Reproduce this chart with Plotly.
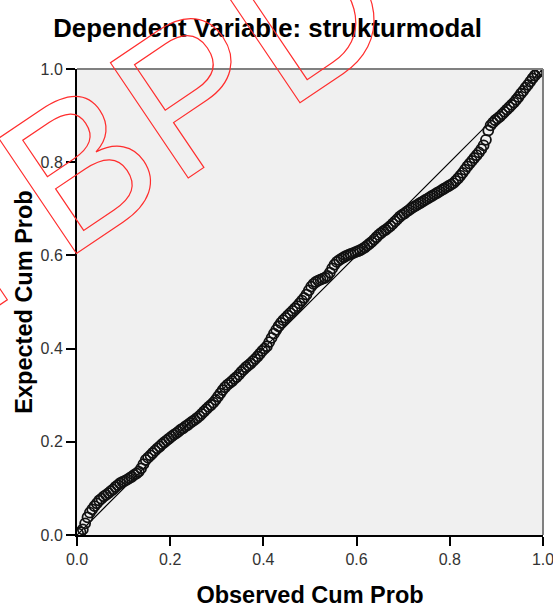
import plotly.graph_objects as go

# Observed cumulative probability (x) and expected cumulative probability (y)
observed = [0.0025, 0.0075, 0.0125, 0.0175, 0.0225, 0.0275, 0.0325, 0.0375, 0.0425, 0.0475,
            0.0525, 0.0575, 0.0625, 0.0675, 0.0725, 0.0775, 0.0825, 0.0875, 0.0925, 0.0975,
            0.1025, 0.1075, 0.1125, 0.1175, 0.1225, 0.1275, 0.1325, 0.1375, 0.1425, 0.1475,
            0.1525, 0.1575, 0.1625, 0.1675, 0.1725, 0.1775, 0.1825, 0.1875, 0.1925, 0.1975,
            0.2025, 0.2075, 0.2125, 0.2175, 0.2225, 0.2275, 0.2325, 0.2375, 0.2425, 0.2475,
            0.2525, 0.2575, 0.2625, 0.2675, 0.2725, 0.2775, 0.2825, 0.2875, 0.2925, 0.2975,
            0.3025, 0.3075, 0.3125, 0.3175, 0.3225, 0.3275, 0.3325, 0.3375, 0.3425, 0.3475,
            0.3525, 0.3575, 0.3625, 0.3675, 0.3725, 0.3775, 0.3825, 0.3875, 0.3925, 0.3975,
            0.4025, 0.4075, 0.4125, 0.4175, 0.4225, 0.4275, 0.4325, 0.4375, 0.4425, 0.4475,
            0.4525, 0.4575, 0.4625, 0.4675, 0.4725, 0.4775, 0.4825, 0.4875, 0.4925, 0.4975,
            0.5025, 0.5075, 0.5125, 0.5175, 0.5225, 0.5275, 0.5325, 0.5375, 0.5425, 0.5475,
            0.5525, 0.5575, 0.5625, 0.5675, 0.5725, 0.5775, 0.5825, 0.5875, 0.5925, 0.5975,
            0.6025, 0.6075, 0.6125, 0.6175, 0.6225, 0.6275, 0.6325, 0.6375, 0.6425, 0.6475,
            0.6525, 0.6575, 0.6625, 0.6675, 0.6725, 0.6775, 0.6825, 0.6875, 0.6925, 0.6975,
            0.7025, 0.7075, 0.7125, 0.7175, 0.7225, 0.7275, 0.7325, 0.7375, 0.7425, 0.7475,
            0.7525, 0.7575, 0.7625, 0.7675, 0.7725, 0.7775, 0.7825, 0.7875, 0.7925, 0.7975,
            0.8025, 0.8075, 0.8125, 0.8175, 0.8225, 0.8275, 0.8325, 0.8375, 0.8425, 0.8475,
            0.8525, 0.8575, 0.8625, 0.8675, 0.8725, 0.8775, 0.8825, 0.8875, 0.8925, 0.8975,
            0.9025, 0.9075, 0.9125, 0.9175, 0.9225, 0.9275, 0.9325, 0.9375, 0.9425, 0.9475,
            0.9525, 0.9575, 0.9625, 0.9675, 0.9725, 0.9775, 0.9825, 0.9875, 0.9925, 0.9975]
expected = [0.003, 0.006, 0.012, 0.025, 0.038, 0.048, 0.055, 0.062, 0.068, 0.074,
            0.078, 0.083, 0.086, 0.090, 0.094, 0.098, 0.103, 0.107, 0.111, 0.114,
            0.116, 0.119, 0.122, 0.125, 0.129, 0.132, 0.136, 0.143, 0.152, 0.161,
            0.166, 0.171, 0.176, 0.181, 0.186, 0.190, 0.195, 0.199, 0.203, 0.207,
            0.211, 0.215, 0.218, 0.222, 0.226, 0.229, 0.233, 0.236, 0.240, 0.244,
            0.247, 0.251, 0.255, 0.260, 0.265, 0.270, 0.275, 0.279, 0.284, 0.290,
            0.297, 0.304, 0.311, 0.317, 0.322, 0.326, 0.330, 0.335, 0.339, 0.344,
            0.350, 0.355, 0.360, 0.364, 0.368, 0.373, 0.378, 0.383, 0.389, 0.395,
            0.400, 0.405, 0.414, 0.423, 0.432, 0.440, 0.448, 0.455, 0.461, 0.466,
            0.471, 0.476, 0.481, 0.486, 0.491, 0.497, 0.503, 0.509, 0.516, 0.525,
            0.533, 0.539, 0.543, 0.546, 0.548, 0.550, 0.552, 0.556, 0.563, 0.572,
            0.580, 0.586, 0.590, 0.593, 0.596, 0.599, 0.601, 0.603, 0.605, 0.607,
            0.609, 0.611, 0.614, 0.617, 0.621, 0.625, 0.629, 0.634, 0.639, 0.644,
            0.648, 0.652, 0.655, 0.659, 0.663, 0.668, 0.673, 0.678, 0.683, 0.687,
            0.690, 0.694, 0.697, 0.701, 0.704, 0.707, 0.710, 0.713, 0.716, 0.719,
            0.722, 0.725, 0.728, 0.731, 0.734, 0.737, 0.740, 0.743, 0.746, 0.749,
            0.752, 0.755, 0.760, 0.765, 0.771, 0.777, 0.784, 0.791, 0.797, 0.803,
            0.809, 0.815, 0.821, 0.828, 0.836, 0.848, 0.868, 0.879, 0.885, 0.890,
            0.894, 0.898, 0.903, 0.908, 0.913, 0.918, 0.923, 0.928, 0.934, 0.940,
            0.947, 0.953, 0.960, 0.966, 0.973, 0.980, 0.986, 0.991, 0.995, 0.998]

# Reference (diagonal) line endpoints
diag_x = [0.0, 1.0]
diag_y = [0.0, 1.0]

tick_vals = [0.0, 0.2, 0.4, 0.6, 0.8, 1.0]
tick_text = ["0.0", "0.2", "0.4", "0.6", "0.8", "1.0"]

FONT = "Arial, 'Liberation Sans', sans-serif"

fig = go.Figure()
fig.add_trace(go.Scatter(x=diag_x, y=diag_y, mode="lines",
                         line=dict(color="black", width=1.2),
                         hoverinfo="skip", showlegend=False))
fig.add_trace(go.Scatter(x=observed, y=expected, mode="markers",
                         marker=dict(symbol="circle-open", size=10, color="#111111",
                                     line=dict(width=1.8)),
                         showlegend=False))

axis_common = dict(range=[0, 1], tickvals=tick_vals, ticktext=tick_text,
                   ticks="outside", ticklen=9, tickwidth=1.5, tickcolor="black",
                   showline=True, linecolor="black", linewidth=2,
                   showgrid=False, zeroline=False, automargin=False,
                   ticklabeloverflow="allow",
                   tickfont=dict(family=FONT, size=16, color="#333333"))

fig.update_layout(
    width=553, height=608,
    margin=dict(l=77, r=10, t=69, b=73, pad=0),
    paper_bgcolor="white", plot_bgcolor="#F0F0F0",
    title=dict(text="Dependent Variable: strukturmodal",
               font=dict(family=FONT, size=25.8, color="black", weight="bold"),
               xref="container", x=267.5 / 553, xanchor="center",
               yref="container", y=1 - 27.5 / 608, yanchor="middle"),
    xaxis=dict(**axis_common,
               title=dict(text="Observed Cum Prob", standoff=19,
                          font=dict(family=FONT, size=23.5, color="black", weight="bold"))),
    yaxis=dict(**axis_common,
               title=dict(text="Expected Cum Prob", standoff=1,
                          font=dict(family=FONT, size=23.5, color="black", weight="bold"))),
    showlegend=False,
)

# gray top and right frame
fig.add_shape(type="line", xref="paper", yref="paper", x0=0, y0=1, x1=1, y1=1,
              line=dict(color="#808080", width=2), layer="above")
fig.add_shape(type="line", xref="paper", yref="paper", x0=1, y0=0, x1=1, y1=1,
              line=dict(color="#808080", width=2), layer="above")

# outlined watermark
WM_STYLE = "fill:none;stroke:#ff2d2d;stroke-width:1.2px"
fig.add_annotation(
    text='<span style="%s">BPD</span>' % WM_STYLE,
    xref="paper", yref="paper", x=(195 - 77) / 466, y=1 - (88.5 - 69) / 466,
    xanchor="center", yanchor="middle", showarrow=False, textangle=-34,
    font=dict(family=FONT, size=202, color="rgba(0,0,0,0)"))
# edge of a preceding watermark letter, mostly outside the image
fig.add_annotation(
    text='<span style="%s">I</span>' % WM_STYLE,
    xref="paper", yref="paper", x=(-39.6 - 77) / 466, y=1 - (246.7 - 69) / 466,
    xanchor="center", yanchor="middle", showarrow=False, textangle=-34,
    font=dict(family=FONT, size=202, color="rgba(0,0,0,0)"))

fig.write_html("out.html",
               config={"displayModeBar": False},
               post_script="document.body.style.margin='0';document.body.style.overflow='hidden';")
